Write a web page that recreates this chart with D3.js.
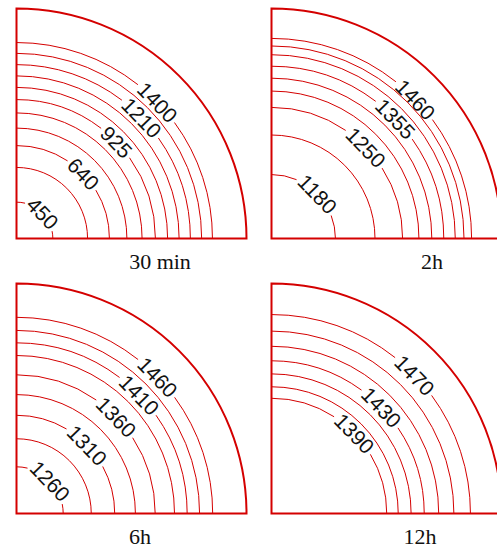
<!DOCTYPE html>
<html>
<head>
<meta charset="utf-8">
<script src="https://cdn.jsdelivr.net/npm/d3@7"></script>
<style>
  body { margin: 0; background: #fff; }
  svg { display: block; }
</style>
</head>
<body>
<div id="chart"></div>
<script>
// panel titles (time after start)
const titles = ['30 min', '2h', '6h', '12h']

// contour levels per panel
const levels30min = [450, 545, 640, 735, 830, 925, 1020, 1115, 1210, 1305, 1400]
const levels2h = [1180, 1215, 1250, 1285, 1320, 1355, 1390, 1425, 1460]
const levels6h = [1260, 1285, 1310, 1335, 1360, 1385, 1410, 1435, 1460]
const levels12h = [1390, 1403.3, 1416.7, 1430, 1443.3, 1456.7, 1470]

// contour radius as fraction of the outer radius
const radii30min = [0.158, 0.309, 0.404, 0.48, 0.546, 0.604, 0.657, 0.707, 0.756, 0.805, 0.852]
const radii2h = [0.278, 0.45, 0.57, 0.641, 0.697, 0.749, 0.799, 0.837, 0.87]
const radii6h = [0.203, 0.325, 0.427, 0.517, 0.603, 0.687, 0.742, 0.796, 0.853]
const radii12h = [0.501, 0.551, 0.607, 0.664, 0.727, 0.793, 0.865]

// which levels carry a label
const labels30min = [450, 640, 925, 1210, 1400]
const labels2h = [1180, 1250, 1355, 1460]
const labels6h = [1260, 1310, 1360, 1410, 1460]
const labels12h = [1390, 1430, 1470]

const panels = [
  { title: titles[0], levels: levels30min, radii: radii30min, labels: labels30min },
  { title: titles[1], levels: levels2h, radii: radii2h, labels: labels2h },
  { title: titles[2], levels: levels6h, radii: radii6h, labels: labels6h },
  { title: titles[3], levels: levels12h, radii: radii12h, labels: labels12h },
]

const width = 497,
  height = 551
const R = 230
const red = '#d40000'
const labelAngle = 44 // degrees from the horizontal axis
const origins = [
  [16.5, 238.5],
  [271.5, 238.5],
  [16.5, 513.5],
  [271.5, 513.5],
]
const titleX = [160, 432, 140, 420]
const titleDy = 30

const svg = d3
  .select('#chart')
  .append('svg')
  .attr('width', width)
  .attr('height', height)

const r = d3.scaleLinear().domain([0, 1]).range([0, R])
const toRad = (deg) => (deg * Math.PI) / 180

// arc from math angle a0 to a1 (radians, counter-clockwise from +x, y up)
const arcPath = (rad, a0, a1) => {
  const p = d3.path()
  const s0 = -a1,
    s1 = -a0
  p.moveTo(rad * Math.cos(s0), rad * Math.sin(s0))
  p.arc(0, 0, rad, s0, s1, false)
  return p.toString()
}

panels.forEach((panel, i) => {
  const [ox, oy] = origins[i]
  const g = svg.append('g').attr('transform', `translate(${ox},${oy})`)

  const contours = panel.levels.map((v, k) => ({
    value: v,
    radius: r(panel.radii[k]),
    labeled: panel.labels.includes(v),
  }))

  // labels first, so their width sets the gap in the line
  const th = toRad(labelAngle)
  const texts = g
    .selectAll('text.lab')
    .data(contours.filter((d) => d.labeled))
    .join('text')
    .attr('class', 'lab')
    .attr('transform', (d) => `translate(${d.radius * Math.cos(th)},${-d.radius * Math.sin(th)})rotate(${90 - labelAngle})`)
    .attr('text-anchor', 'middle')
    .attr('dy', '0.36em')
    .style('font-family', '"Liberation Sans", Arial, sans-serif')
    .style('font-size', '21px')
    .attr('fill', '#111')
    .text((d) => d3.format('d')(d.value))

  texts.each(function (d) {
    d.textWidth = this.getComputedTextLength()
  })

  contours.forEach((d) => {
    let segs = [[0, Math.PI / 2]]
    if (d.labeled) {
      const half = Math.min((d.textWidth / 2 + 3) / d.radius, th)
      segs = [
        [0, th - half],
        [th + half, Math.PI / 2],
      ]
    }
    segs
      .filter((s) => s[1] > s[0])
      .forEach((s) => {
        g.insert('path', 'text')
          .attr('d', arcPath(d.radius, s[0], s[1]))
          .attr('fill', 'none')
          .attr('stroke', red)
          .attr('stroke-width', 1)
      })
  })

  // outer boundary of the quarter
  const outer = d3.path()
  outer.moveTo(0, 0)
  outer.lineTo(0, -R)
  outer.arc(0, 0, R, -Math.PI / 2, 0, false)
  outer.closePath()
  g.append('path')
    .attr('d', outer.toString())
    .attr('fill', 'none')
    .attr('stroke', red)
    .attr('stroke-width', 2)

  svg
    .append('text')
    .attr('x', titleX[i])
    .attr('y', oy + titleDy)
    .attr('text-anchor', 'middle')
    .style('font-family', '"Liberation Serif", "Times New Roman", serif')
    .style('font-size', '22px')
    .attr('fill', '#111')
    .text(panel.title)
})
</script>
</body>
</html>
